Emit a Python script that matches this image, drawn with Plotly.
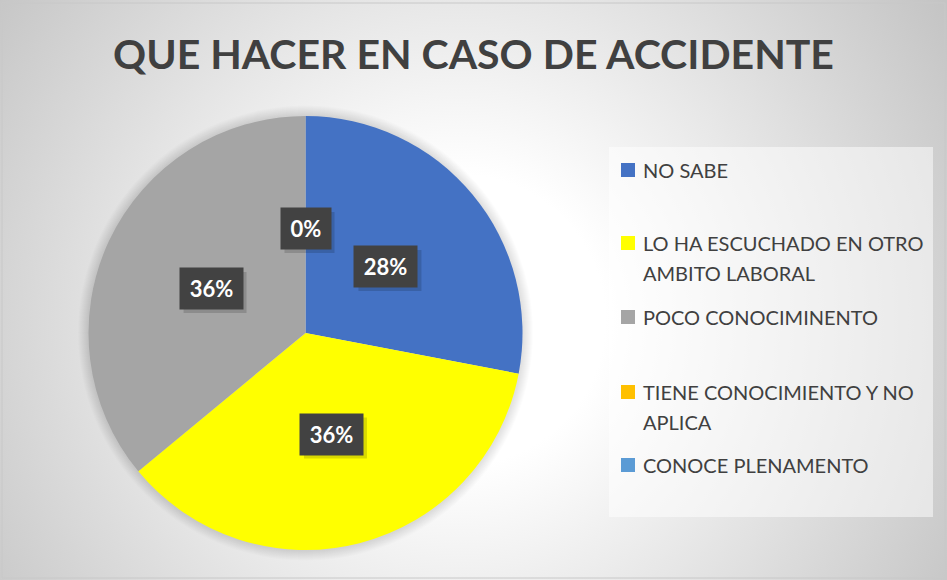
import math
import base64
import textwrap
import plotly.graph_objects as go

# ---------------- data ----------------
title_text = "QUE HACER EN CASO DE ACCIDENTE"
categories = [
    "NO SABE",
    "LO HA ESCUCHADO EN OTRO AMBITO LABORAL",
    "POCO CONOCIMINENTO",
    "TIENE CONOCIMIENTO Y NO APLICA",
    "CONOCE PLENAMENTO",
]
values = [28, 36, 36, 0, 0]
colors = ["#4472C4", "#FFFF00", "#A5A5A5", "#FFC000", "#5B9BD5"]

# ---------------- layout constants ----------------
W, H = 947, 580
FONT = "Lato"
TXT = "#404040"
pie_left, pie_right, pie_top, pie_bottom = 88, 523, 116, 550
cx = (pie_left + pie_right) / 2
cy = (pie_top + pie_bottom) / 2
R = (pie_right - pie_left) / 2


def px(x):
    return x / W


def py(y):
    return 1 - y / H


fig = go.Figure(
    go.Pie(
        labels=categories,
        values=values,
        marker=dict(colors=colors, line=dict(width=0)),
        sort=False,
        direction="clockwise",
        rotation=0,
        textinfo="none",
        hoverinfo="label+percent",
        showlegend=False,
        domain=dict(x=[px(pie_left), px(pie_right)], y=[py(pie_bottom), py(pie_top)]),
    )
)

# background radial gradient (as svg image)
svg = f"""<svg xmlns='http://www.w3.org/2000/svg' width='{W}' height='{H}'>
<defs><radialGradient id='g' gradientUnits='userSpaceOnUse' cx='460' cy='320' r='580'>
<stop offset='0' stop-color='#FFFFFF'/><stop offset='0.25' stop-color='#FFFFFF'/>
<stop offset='1' stop-color='#C4C4C4'/></radialGradient></defs>
<rect x='0' y='0' width='{W}' height='{H}' fill='url(#g)'/></svg>"""
src = "data:image/svg+xml;base64," + base64.b64encode(svg.encode()).decode()

shapes = []
annotations = []

# soft halo around the pie
for k in range(1, 11):
    shapes.append(dict(type="circle", xref="paper", yref="paper",
                       x0=px(cx - R - k), x1=px(cx + R + k),
                       y0=py(cy + R + k), y1=py(cy - R - k),
                       line=dict(width=0), fillcolor="rgba(0,0,0,0.01)", layer="below"))

# chart border
shapes.append(dict(type="rect", xref="paper", yref="paper",
                   x0=px(2), x1=px(945), y0=py(578), y1=py(3),
                   line=dict(color="#C8C8C8", width=1), fillcolor="rgba(0,0,0,0)"))

# legend box
shapes.append(dict(type="rect", xref="paper", yref="paper",
                   x0=px(609), x1=px(933), y0=py(517), y1=py(147),
                   line=dict(width=0), fillcolor="rgba(255,255,255,0.5)", layer="below"))

# data labels (dark boxes with a soft shadow)
PAD = 7
total = sum(values)
cum = 0
placed = set()
for v in values:
    frac = v / total
    mid = (cum + frac / 2) * 2 * math.pi
    cum += frac
    lx = cx + 0.48 * R * math.sin(mid)
    ly = cy - 0.48 * R * math.cos(mid)
    key = (round(lx, 1), round(ly, 1))
    txt = f"{round(frac * 100)}%"
    if key in placed:
        continue  # identical label at identical spot (zero slices)
    placed.add(key)
    bw = 13 * (len(txt) - 1) + 23
    bh = 27
    fw, fh = bw + 2 * PAD, bh + 2 * PAD
    shapes.append(dict(type="rect", xref="paper", yref="paper",
                       x0=px(lx - fw / 2 + 4), x1=px(lx + fw / 2 + 4),
                       y0=py(ly + fh / 2 + 4), y1=py(ly - fh / 2 + 4),
                       line=dict(width=0), fillcolor="rgba(0,0,0,0.15)", layer="above"))
    annotations.append(dict(x=px(lx), y=py(ly), xref="paper", yref="paper",
                            xanchor="center", yanchor="middle",
                            text=f"<b>{txt}</b>", showarrow=False, width=bw, height=bh,
                            font=dict(family=FONT, size=22, color="#FFFFFF"),
                            bgcolor="#424242", borderpad=PAD))

# manual legend
legend_y = [170, 243, 317, 392, 465]
line_gap = 30
for cat, col, y0 in zip(categories, colors, legend_y):
    shapes.append(dict(type="rect", xref="paper", yref="paper",
                       x0=px(621), x1=px(635), y0=py(y0 + 7), y1=py(y0 - 7),
                       line=dict(width=0), fillcolor=col))
    for i, line in enumerate(textwrap.wrap(cat, 23)):
        annotations.append(dict(x=px(641), y=py(y0 + i * line_gap), xref="paper", yref="paper",
                                xanchor="left", yanchor="middle", text=line, showarrow=False,
                                font=dict(family=FONT, size=20, color=TXT)))

fig.update_layout(
    width=W, height=H,
    margin=dict(l=0, r=0, t=0, b=0),
    paper_bgcolor="#FFFFFF",
    title=dict(text=f"<b>{title_text}</b>", x=0.5, xanchor="center", y=py(55), yanchor="middle",
               font=dict(family=FONT, size=41, color=TXT)),
    images=[dict(source=src, xref="paper", yref="paper", x=0, y=1, sizex=1, sizey=1,
                 xanchor="left", yanchor="top", sizing="stretch", layer="below")],
    shapes=shapes,
    annotations=annotations,
)

fig.write_html("out.html", config={"displayModeBar": False},
               post_script="document.body.style.margin='0';")
